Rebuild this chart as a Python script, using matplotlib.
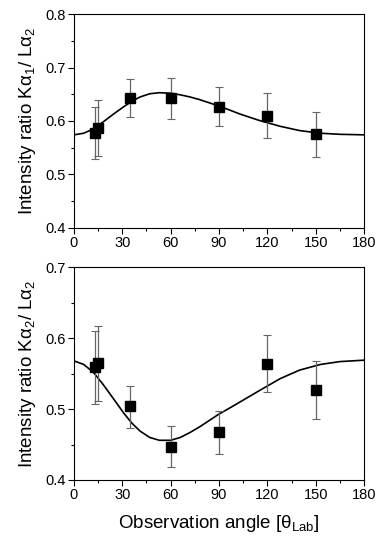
import numpy as np
import matplotlib
matplotlib.use('Agg')
import matplotlib.pyplot as plt
from matplotlib.ticker import MultipleLocator

plt.rcParams['font.family'] = ['Liberation Sans', 'DejaVu Sans']
plt.rcParams['mathtext.fontset'] = 'custom'
plt.rcParams['mathtext.rm'] = 'Liberation Sans'
plt.rcParams['mathtext.it'] = 'Liberation Sans'

# measured points
angles = [13, 15, 35, 60, 90, 120, 150]

k1_ratio = [0.578, 0.587, 0.643, 0.643, 0.627, 0.610, 0.575]
k1_err_up = [0.048, 0.053, 0.036, 0.038, 0.037, 0.042, 0.041]
k1_err_dn = [0.050, 0.053, 0.035, 0.039, 0.037, 0.042, 0.042]

k2_ratio = [0.560, 0.565, 0.504, 0.446, 0.467, 0.564, 0.527]
k2_err_up = [0.050, 0.052, 0.029, 0.030, 0.030, 0.040, 0.041]
k2_err_dn = [0.053, 0.054, 0.030, 0.028, 0.030, 0.040, 0.041]

# fit curves
fit_angle = [0, 6, 12, 18, 25, 31, 36, 41, 47, 53, 60, 66, 72, 78,
             84, 90, 97, 103, 115, 128, 140, 153, 165, 180]
fit_k1 = [0.574, 0.577, 0.585, 0.598, 0.614, 0.627, 0.637, 0.645, 0.651,
          0.653, 0.652, 0.649, 0.645, 0.640, 0.634, 0.628, 0.620, 0.613,
          0.601, 0.590, 0.582, 0.577, 0.575, 0.574]
fit_k2 = [0.568, 0.563, 0.552, 0.535, 0.513, 0.494, 0.480, 0.469, 0.460,
          0.456, 0.456, 0.460, 0.467, 0.475, 0.484, 0.493, 0.502, 0.510,
          0.526, 0.543, 0.555, 0.563, 0.567, 0.569]

fig = plt.figure(figsize=(3.82, 5.49), dpi=100)
ax1 = fig.add_axes([0.1937, 0.5853, 0.7592, 0.3887])
ax2 = fig.add_axes([0.1937, 0.1257, 0.7592, 0.3874])


def style(ax, ymin, ymax):
    ax.set_xlim(0, 180)
    ax.set_ylim(ymin, ymax)
    ax.xaxis.set_major_locator(MultipleLocator(30))
    ax.xaxis.set_minor_locator(MultipleLocator(15))
    ax.yaxis.set_major_locator(MultipleLocator(0.1))
    ax.yaxis.set_minor_locator(MultipleLocator(0.05))
    ax.tick_params(which='major', direction='out', length=4, width=0.8,
                   labelsize=10.5, pad=2)
    ax.tick_params(which='minor', direction='out', length=2.2, width=0.8)
    for s in ax.spines.values():
        s.set_linewidth(0.8)


style(ax1, 0.4, 0.8)
style(ax2, 0.4, 0.7)

ax1.plot(fit_angle, fit_k1, color='black', lw=1.2, zorder=2)
ax1.errorbar(angles, k1_ratio, yerr=[k1_err_dn, k1_err_up], fmt='s',
             color='black', ms=7, ecolor='#666666', elinewidth=0.9,
             capsize=3, capthick=0.8, zorder=3)

ax2.plot(fit_angle, fit_k2, color='black', lw=1.2, zorder=2)
ax2.errorbar(angles, k2_ratio, yerr=[k2_err_dn, k2_err_up], fmt='s',
             color='black', ms=7, ecolor='#666666', elinewidth=0.9,
             capsize=3, capthick=0.8, zorder=3)

ax1.set_yticks([0.4, 0.5, 0.6, 0.7, 0.8])
ax1.set_yticklabels(['0.4', '0.5', '0.6', '0.7', '0.8'])
ax2.set_yticks([0.4, 0.5, 0.6, 0.7])
ax2.set_yticklabels(['0.4', '0.5', '0.6', '0.7'])

ax1.set_ylabel('Intensity ratio Kα$_1$/ Lα$_2$', fontsize=13.5, labelpad=5)
ax2.set_ylabel('Intensity ratio Kα$_2$/ Lα$_2$', fontsize=13.5, labelpad=5)
ax2.set_xlabel('Observation angle [θ$_{\\rm Lab}$]', fontsize=13.5, labelpad=8)

plt.savefig('out.png', dpi=100)
